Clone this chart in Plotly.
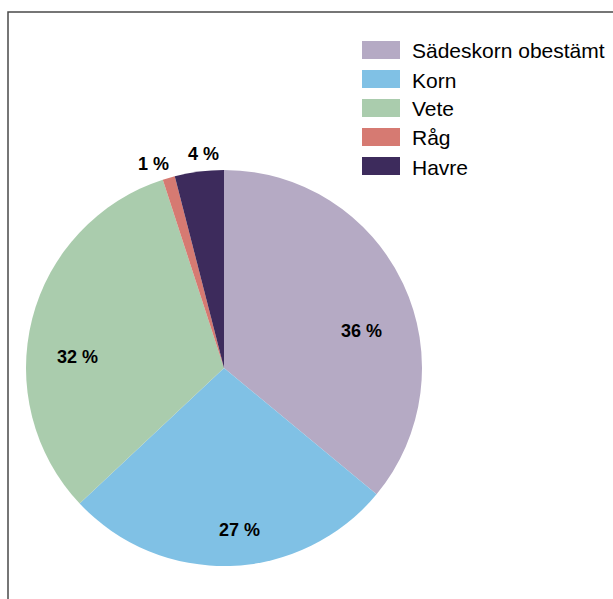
import math
import plotly.graph_objects as go

# Andel av spannmålsarealen per gröda
categories = ["Sädeskorn obestämt", "Korn", "Vete", "Råg", "Havre"]
shares = [36, 27, 32, 1, 4]
colors = ["#B5AAC4", "#80C1E5", "#AACCAD", "#D67A72", "#3D2B5C"]

# label placement per slice: radius as fraction of pie radius, angular nudge (deg)
label_radius = [0.72, 0.82, 0.74, 1.09, 1.085]
label_nudge = [10, -3.6, -10, -2.8, 1.7]

W, H = 613, 599
CX, CY, R = 224, 368, 198


def px(x):
    return x / W


def py(y):
    return 1 - y / H


fig = go.Figure(
    go.Pie(
        labels=categories,
        values=shares,
        sort=False,
        direction="clockwise",
        rotation=0,
        marker=dict(colors=colors, line=dict(width=0)),
        textinfo="none",
        domain=dict(x=[px(CX - R), px(CX + R)], y=[py(CY + R), py(CY - R)]),
        showlegend=False,
        hoverinfo="label+percent",
    )
)

shapes = [
    # chart frame
    dict(type="rect", xref="paper", yref="paper",
         x0=px(8), y0=py(12), x1=px(640), y1=py(640),
         line=dict(color="#4a4a4a", width=1.5), fillcolor="rgba(0,0,0,0)", layer="below"),
]
annotations = []

# percentage labels, placed along each slice's bisector
total = sum(shares)
start = 0.0
for val, rf, nudge in zip(shares, label_radius, label_nudge):
    sweep = 360.0 * val / total
    theta = math.radians(start + sweep / 2 + nudge)
    start += sweep
    lx = CX + R * rf * math.sin(theta)
    ly = CY - R * rf * math.cos(theta)
    annotations.append(dict(xref="paper", yref="paper", x=px(lx), y=py(ly),
                            xanchor="center", yanchor="middle", showarrow=False,
                            text=f"{val} %",
                            font=dict(family="Liberation Sans, Arial", size=18,
                                      color="black", weight="bold")))

# legend: colour boxes with labels
row0, step = 50, 29
for i, (name, col) in enumerate(zip(categories, colors)):
    cy = row0 + i * step
    shapes.append(dict(type="rect", xref="paper", yref="paper",
                       x0=px(362), x1=px(400), y0=py(cy - 9), y1=py(cy + 9),
                       fillcolor=col, line=dict(width=0)))
    annotations.append(dict(xref="paper", yref="paper", x=px(410), y=py(cy + 1),
                            xanchor="left", yanchor="middle", showarrow=False,
                            text=name, font=dict(family="Liberation Sans, Arial", size=21, color="black")))

fig.update_layout(
    width=W, height=H,
    margin=dict(l=0, r=0, t=0, b=0),
    paper_bgcolor="white",
    plot_bgcolor="white",
    shapes=shapes,
    annotations=annotations,
)

fig.write_html("out.html")
